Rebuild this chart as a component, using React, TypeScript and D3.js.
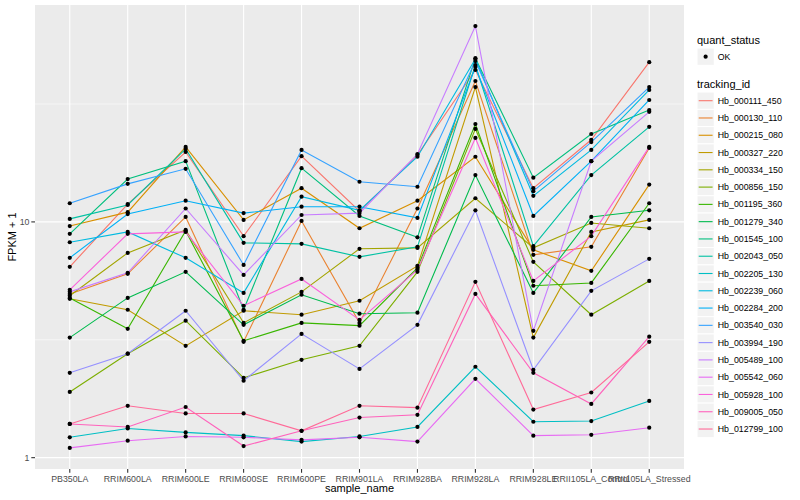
import { useMemo } from 'react';
import * as d3 from 'd3';

// --- Data (FPKM + 1) ---
const samples = [
    'PB350LA', 'RRIM600LA', 'RRIM600LE', 'RRIM600SE', 'RRIM600PE', 'RRIM901LA',
    'RRIM928BA', 'RRIM928LA', 'RRIM928LE', 'RRII105LA_Control', 'RRII105LA_Stressed',
];

const trackingIds = [
    'Hb_000111_450', 'Hb_000130_110', 'Hb_000215_080', 'Hb_000327_220', 'Hb_000334_150',
    'Hb_000856_150', 'Hb_001195_360', 'Hb_001279_340', 'Hb_001545_100', 'Hb_002043_050',
    'Hb_002205_130', 'Hb_002239_060', 'Hb_002284_200', 'Hb_003540_030', 'Hb_003994_190',
    'Hb_005489_100', 'Hb_005542_060', 'Hb_005928_100', 'Hb_009005_050', 'Hb_012799_100',
];

const hb000111_450 = [6.45, 11.9, 19.8, 8.7, 19.0, 11.1, 19.2, 44.1, 13.9, 22.3, 47.6];
const hb000130_110 = [4.95, 6.02, 10.5, 3.10, 10.1, 3.73, 11.4, 39.6, 7.25, 7.84, 20.6];
const hb000215_080 = [9.6, 11.0, 20.8, 10.2, 13.9, 9.4, 12.3, 18.9, 7.61, 6.20, 14.4];
const hb000327_220 = [4.72, 4.24, 2.98, 4.20, 4.04, 4.63, 6.51, 37.3, 3.23, 9.07, 10.2];
const hb000334_150 = [4.86, 7.39, 9.25, 3.73, 5.05, 7.69, 7.76, 12.6, 7.76, 9.9, 9.4];
const hb000856_150 = [1.90, 2.76, 3.81, 2.18, 2.60, 2.98, 6.14, 24.8, 6.77, 4.04, 5.62];
const hb001195_360 = [4.76, 3.52, 9.16, 3.13, 3.73, 3.63, 6.38, 26.0, 5.36, 5.51, 12.0];
const hb001279_340 = [3.23, 4.76, 6.14, 3.66, 4.91, 4.08, 4.12, 15.8, 5.00, 10.5, 11.2];
const hb001545_100 = [8.9, 15.2, 18.1, 4.24, 16.9, 10.6, 8.6, 49.5, 15.4, 23.6, 29.8];
const hb002043_050 = [10.3, 11.8, 20.4, 8.15, 8.07, 7.11, 7.84, 46.3, 7.9, 15.8, 25.3];
const hb002205_130 = [1.22, 1.33, 1.28, 1.24, 1.17, 1.23, 1.35, 2.43, 1.42, 1.43, 1.74];
const hb002239_060 = [8.2, 9.07, 7.04, 5.00, 12.8, 11.2, 18.9, 49.1, 12.9, 20.2, 36.3];
const hb002284_200 = [7.04, 10.8, 12.3, 10.9, 11.6, 11.6, 10.4, 45.4, 10.6, 18.1, 32.9];
const hb003540_030 = [12.0, 14.5, 16.8, 6.57, 20.2, 14.8, 14.1, 48.1, 13.5, 21.8, 37.3];
const hb003994_190 = [2.29, 2.76, 4.20, 2.12, 3.35, 2.38, 3.66, 11.2, 2.36, 5.10, 6.97];
const hb005489_100 = [5.05, 6.08, 11.4, 5.96, 10.7, 10.9, 19.4, 67.7, 3.45, 18.1, 29.3];
const hb005542_060 = [1.10, 1.18, 1.23, 1.22, 1.19, 1.22, 1.17, 2.16, 1.24, 1.25, 1.34];
const hb005928_100 = [5.15, 8.9, 9.07, 4.41, 5.73, 3.84, 6.26, 22.7, 5.62, 8.7, 20.8];
const hb009005_050 = [1.39, 1.35, 1.64, 1.12, 1.30, 1.48, 1.52, 4.95, 2.29, 1.69, 3.26];
const hb012799_100 = [1.39, 1.66, 1.54, 1.54, 1.30, 1.66, 1.63, 5.57, 1.60, 1.89, 3.10];

const seriesValues = [
    hb000111_450, hb000130_110, hb000215_080, hb000327_220, hb000334_150,
    hb000856_150, hb001195_360, hb001279_340, hb001545_100, hb002043_050,
    hb002205_130, hb002239_060, hb002284_200, hb003540_030, hb003994_190,
    hb005489_100, hb005542_060, hb005928_100, hb009005_050, hb012799_100,
];

const yTicks = [1, 10];

// --- ggplot-style hue palette (polar LUV -> sRGB) ---
function hclLuv(h: number, c: number, l: number): string {
    const hr = (h * Math.PI) / 180;
    const U = c * Math.cos(hr);
    const V = c * Math.sin(hr);
    const Xn = 95.047, Yn = 100, Zn = 108.883;
    const Y = l > 8 ? Yn * Math.pow((l + 16) / 116, 3) : (Yn * l) / 903.3;
    const t = Xn + Yn + Zn;
    const xw = Xn / t, yw = Yn / t;
    const uN = (2 * xw) / (6 * yw - xw + 1.5);
    const vN = (4.5 * yw) / (6 * yw - xw + 1.5);
    const u = U / (13 * l) + uN;
    const v = V / (13 * l) + vN;
    const X = (9 * Y * u) / (4 * v);
    const Z = -X / 3 - 5 * Y + (3 * Y) / v;
    const x = X / 100, y = Y / 100, z = Z / 100;
    const lin = [
        3.240479 * x - 1.53715 * y - 0.498535 * z,
        -0.969256 * x + 1.875992 * y + 0.041556 * z,
        0.055648 * x - 0.204043 * y + 1.057311 * z,
    ];
    const g = lin.map(a => {
        const s = a <= 0.0031308 ? 12.92 * a : 1.055 * Math.pow(a, 1 / 2.4) - 0.055;
        return Math.round(Math.max(0, Math.min(1, s)) * 255);
    });
    return d3.rgb(g[0], g[1], g[2]).formatHex();
}

const hues = (n: number) => d3.range(n).map(i => hclLuv(15 + (360 / n) * i, 100, 65));

const FONT = '"Liberation Sans", Arial, Helvetica, sans-serif';

const App = () => {
    const width = 800;
    const height = 500;
    const panel = { left: 35, right: 684, top: 5, bottom: 469 };

    const colors = useMemo(() => hues(trackingIds.length), []);

    const { x, y } = useMemo(() => {
        const all = seriesValues.flat();
        const [lo, hi] = d3.extent(all) as [number, number];
        const l0 = Math.log10(lo), l1 = Math.log10(hi);
        const pad = (l1 - l0) * 0.05;
        const y = d3.scaleLog()
            .domain([Math.pow(10, l0 - pad), Math.pow(10, l1 + pad)])
            .range([panel.bottom, panel.top]);
        const x = d3.scalePoint<string>()
            .domain(samples)
            .range([panel.left, panel.right])
            .padding(0.6);
        return { x, y };
    }, []);

    const line = d3.line<number>()
        .x((_, i) => x(samples[i]) as number)
        .y(d => y(d));

    // minor breaks at midpoints (log space) between majors
    const [d0, d1] = y.domain().map(Math.log10);
    const minorTicks = d3.range(Math.floor(d0) - 1, Math.ceil(d1) + 1)
        .map(k => Math.pow(10, k + 0.5))
        .filter(v => Math.log10(v) > d0 && Math.log10(v) < d1);

    const legendX = 697;
    const keySize = 17.28;
    const rowY = (i: number) => 100.7 + keySize * i;

    return (
        <svg width={width} height={height} style={{ position: 'absolute', left: 0, top: 0, background: '#fff' }}
             fontFamily={FONT}>
            {/* panel */}
            <rect x={panel.left} y={panel.top} width={panel.right - panel.left}
                  height={panel.bottom - panel.top} fill="#EBEBEB" />
            {minorTicks.map(v => (
                <line key={'mi' + v} x1={panel.left} x2={panel.right} y1={y(v)} y2={y(v)}
                      stroke="#fff" strokeWidth={0.55} />
            ))}
            {yTicks.map(v => (
                <line key={'ma' + v} x1={panel.left} x2={panel.right} y1={y(v)} y2={y(v)}
                      stroke="#fff" strokeWidth={1.1} />
            ))}
            {samples.map(s => (
                <line key={'v' + s} x1={x(s)} x2={x(s)} y1={panel.top} y2={panel.bottom}
                      stroke="#fff" strokeWidth={1.1} />
            ))}

            {/* lines */}
            {seriesValues.map((vals, i) => (
                <path key={trackingIds[i]} d={line(vals) || ''} fill="none"
                      stroke={colors[i]} strokeWidth={1.1} />
            ))}
            {/* points */}
            {seriesValues.map((vals, i) => vals.map((v, j) => (
                <circle key={trackingIds[i] + j} cx={x(samples[j])} cy={y(v)} r={2.1} fill="#000" />
            )))}

            {/* y axis */}
            {yTicks.map(v => (
                <g key={'yt' + v}>
                    <line x1={panel.left - 3.7} x2={panel.left} y1={y(v)} y2={y(v)} stroke="#333" strokeWidth={1.1} />
                    <text x={panel.left - 5.5} y={y(v)} dy="0.35em" textAnchor="end"
                          fontSize={8.8} fill="#4D4D4D">{v}</text>
                </g>
            ))}
            {/* x axis */}
            {samples.map(s => (
                <g key={'xt' + s}>
                    <line x1={x(s)} x2={x(s)} y1={panel.bottom} y2={panel.bottom + 3.7} stroke="#333" strokeWidth={1.1} />
                    <text x={x(s)} y={panel.bottom + 12.5} textAnchor="middle"
                          fontSize={8.8} fill="#4D4D4D">{s}</text>
                </g>
            ))}
            <text x={(panel.left + panel.right) / 2} y={492} textAnchor="middle" fontSize={11} fill="#000">
                sample_name
            </text>
            <text transform={`translate(16,${(panel.top + panel.bottom) / 2}) rotate(-90)`}
                  textAnchor="middle" fontSize={11} fill="#000">FPKM + 1</text>

            {/* legend: quant_status */}
            <text x={legendX} y={44} fontSize={11} fill="#000">quant_status</text>
            <rect x={legendX} y={56.7 - keySize / 2} width={keySize} height={keySize}
                  fill="#F2F2F2" stroke="#fff" strokeWidth={1} />
            <circle cx={legendX + keySize / 2} cy={56.7} r={2.1} fill="#000" />
            <text x={legendX + keySize + 3.5} y={56.7} dy="0.35em" fontSize={8.8} fill="#000">OK</text>

            {/* legend: tracking_id */}
            <text x={legendX} y={88} fontSize={11} fill="#000">tracking_id</text>
            {trackingIds.map((id, i) => (
                <g key={'lg' + id}>
                    <rect x={legendX} y={rowY(i) - keySize / 2} width={keySize} height={keySize}
                          fill="#F2F2F2" stroke="#fff" strokeWidth={1} />
                    <line x1={legendX + 1.7} x2={legendX + keySize - 1.7} y1={rowY(i)} y2={rowY(i)}
                          stroke={colors[i]} strokeWidth={1.1} />
                    <text x={legendX + keySize + 3.5} y={rowY(i)} dy="0.35em" fontSize={8.8} fill="#000">{id}</text>
                </g>
            ))}
        </svg>
    );
};

export default App;
